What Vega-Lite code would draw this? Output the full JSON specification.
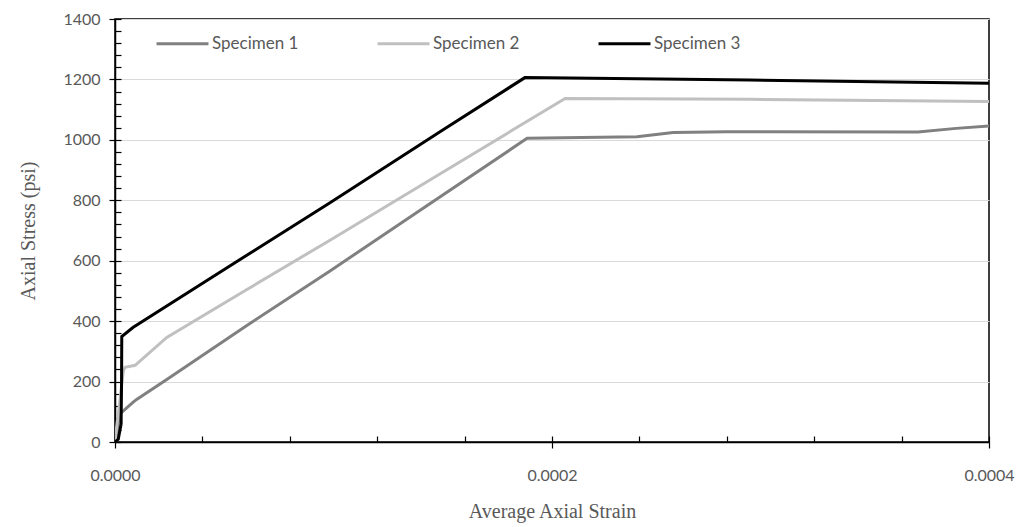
{
  "$schema": "https://vega.github.io/schema/vega-lite/v6.json",
  "width": 874,
  "height": 423,
  "autosize": {"type": "none"},
  "padding": {"left": 115, "top": 19, "right": 35, "bottom": 85},
  "background": "white",
  "config": {
    "view": {"stroke": "#000000", "strokeWidth": 1.5},
    "font": "Lato",
    "axis": {"domainColor": "#000000", "domainWidth": 1.5, "tickColor": "#000000", "tickWidth": 1.2}
  },
  "data": {
    "values": [
      {"s": "Specimen 1", "strain": 0, "stress": 0},
      {"s": "Specimen 1", "strain": 0.0000008, "stress": 20},
      {"s": "Specimen 1", "strain": 0.0000015, "stress": 60},
      {"s": "Specimen 1", "strain": 0.000002, "stress": 91},
      {"s": "Specimen 1", "strain": 0.0000046, "stress": 108},
      {"s": "Specimen 1", "strain": 0.0000082, "stress": 131},
      {"s": "Specimen 1", "strain": 0.0000099, "stress": 141},
      {"s": "Specimen 1", "strain": 0.0000237, "stress": 207},
      {"s": "Specimen 1", "strain": 0.00006, "stress": 384},
      {"s": "Specimen 1", "strain": 0.0000984, "stress": 566},
      {"s": "Specimen 1", "strain": 0.00014, "stress": 769},
      {"s": "Specimen 1", "strain": 0.0001886, "stress": 1005},
      {"s": "Specimen 1", "strain": 0.0002389, "stress": 1010},
      {"s": "Specimen 1", "strain": 0.0002554, "stress": 1024},
      {"s": "Specimen 1", "strain": 0.00028, "stress": 1027},
      {"s": "Specimen 1", "strain": 0.0003675, "stress": 1026},
      {"s": "Specimen 1", "strain": 0.000385, "stress": 1038},
      {"s": "Specimen 1", "strain": 0.0004, "stress": 1046},
      {"s": "Specimen 2", "strain": 0, "stress": 0},
      {"s": "Specimen 2", "strain": 0.0000008, "stress": 53},
      {"s": "Specimen 2", "strain": 0.0000023, "stress": 141},
      {"s": "Specimen 2", "strain": 0.0000038, "stress": 235},
      {"s": "Specimen 2", "strain": 0.0000046, "stress": 247},
      {"s": "Specimen 2", "strain": 0.0000092, "stress": 254},
      {"s": "Specimen 2", "strain": 0.0000237, "stress": 346},
      {"s": "Specimen 2", "strain": 0.00006, "stress": 503},
      {"s": "Specimen 2", "strain": 0.0000984, "stress": 668},
      {"s": "Specimen 2", "strain": 0.00015, "stress": 893},
      {"s": "Specimen 2", "strain": 0.000206, "stress": 1137},
      {"s": "Specimen 2", "strain": 0.0002906, "stress": 1134},
      {"s": "Specimen 2", "strain": 0.0004, "stress": 1127},
      {"s": "Specimen 3", "strain": 0, "stress": 0},
      {"s": "Specimen 3", "strain": 0.0000015, "stress": 9},
      {"s": "Specimen 3", "strain": 0.0000028, "stress": 60},
      {"s": "Specimen 3", "strain": 0.000003, "stress": 200},
      {"s": "Specimen 3", "strain": 0.0000031, "stress": 349},
      {"s": "Specimen 3", "strain": 0.0000082, "stress": 379},
      {"s": "Specimen 3", "strain": 0.00005, "stress": 571},
      {"s": "Specimen 3", "strain": 0.0000984, "stress": 792},
      {"s": "Specimen 3", "strain": 0.00015, "stress": 1033},
      {"s": "Specimen 3", "strain": 0.0001876, "stress": 1206},
      {"s": "Specimen 3", "strain": 0.0002906, "stress": 1198},
      {"s": "Specimen 3", "strain": 0.0004, "stress": 1187}
    ]
  },
  "layer": [
    {
      "mark": {"type": "line", "opacity": 0},
      "encoding": {
        "x": {
          "field": "strain", "type": "quantitative",
          "scale": {"domain": [0, 0.0004], "nice": false, "zero": false},
          "axis": {
            "orient": "bottom",
            "values": [0, 0.00004, 0.00008, 0.00012, 0.00016, 0.0002, 0.00024, 0.00028, 0.00032, 0.00036, 0.0004],
            "labels": false, "title": null, "domain": false, "grid": false, "tickSize": -6
          }
        },
        "y": {
          "field": "stress", "type": "quantitative",
          "scale": {"domain": [0, 1400], "nice": false},
          "axis": {
            "orient": "left",
            "values": [0, 40, 80, 120, 160, 200, 240, 280, 320, 360, 400, 440, 480, 520, 560, 600, 640, 680, 720, 760, 800, 840, 880, 920, 960, 1000, 1040, 1080, 1120, 1160, 1200, 1240, 1280, 1320, 1360, 1400],
            "labels": false, "title": null, "domain": false, "grid": false, "tickSize": -6
          }
        },
        "detail": {"field": "s", "type": "nominal"}
      }
    },
    {
      "mark": {"type": "line", "strokeWidth": 3, "clip": true},
      "encoding": {
        "x": {
          "field": "strain", "type": "quantitative",
          "axis": {
            "orient": "bottom",
            "values": [0, 0.0002, 0.0004], "format": ".4f", "labelFlush": false, "labelOverlap": false,
            "title": "Average Axial Strain", "grid": false,
            "tickSize": 6, "labelPadding": 19, "labelFontSize": 16, "labelColor": "#595959",
            "titleFont": "Liberation Serif", "titleFontSize": 20, "titleFontWeight": "normal", "titleColor": "#595959", "titlePadding": 18
          }
        },
        "y": {
          "field": "stress", "type": "quantitative",
          "axis": {
            "orient": "left",
            "values": [0, 200, 400, 600, 800, 1000, 1200, 1400], "format": "d",
            "title": "Axial Stress (psi)", "grid": true, "gridColor": "#d9d9d9", "gridWidth": 1.2,
            "tickSize": 6, "labelPadding": 9, "labelFontSize": 16, "labelColor": "#595959",
            "titleFont": "Liberation Serif", "titleFontSize": 20, "titleFontWeight": "normal", "titleColor": "#595959", "titlePadding": 24
          }
        },
        "color": {
          "field": "s", "type": "nominal",
          "scale": {"domain": ["Specimen 1", "Specimen 2", "Specimen 3"], "range": ["#808080", "#c0c0c0", "#000000"]},
          "legend": {
            "title": null, "orient": "none", "direction": "horizontal",
            "legendX": 40, "legendY": -3,
            "symbolType": "stroke", "symbolSize": 2700, "symbolStrokeWidth": 3,
            "labelFontSize": 17, "labelColor": "#595959", "labelOffset": 2, "columnPadding": 72
          }
        }
      }
    }
  ],
  "resolve": {"axis": {"x": "independent", "y": "independent"}}
}
